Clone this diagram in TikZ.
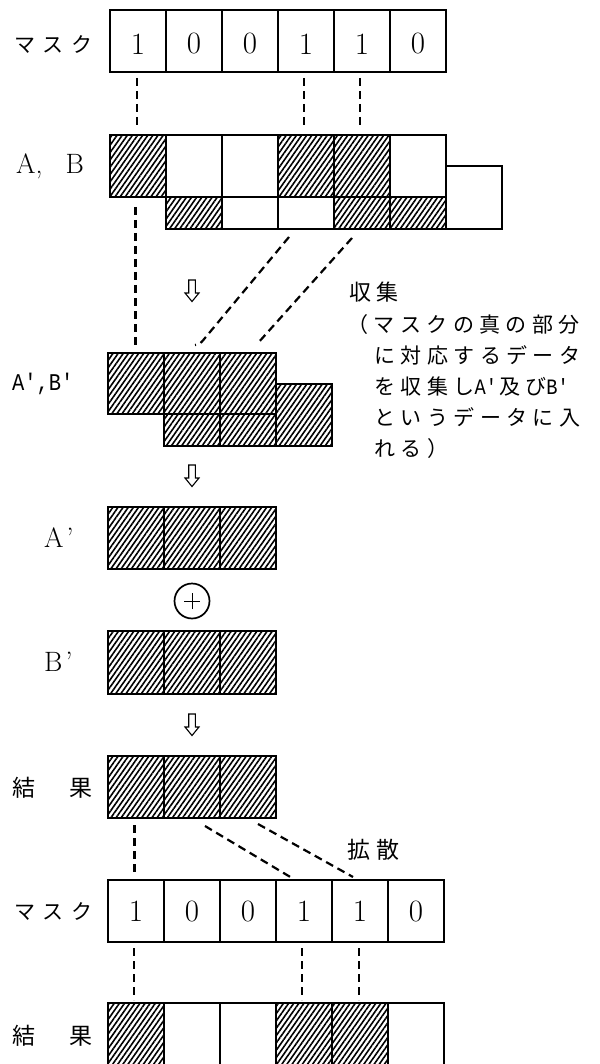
\documentclass[tikz,border=0pt]{standalone}
\usepackage{fontspec}
\usepackage{graphicx}
\usetikzlibrary{patterns.meta}
\setmonofont{Liberation Mono}
\newfontfamily\jpf{Noto Sans CJK JP}
\newfontfamily\jpsp[LetterSpace=26]{Noto Sans CJK JP}
\newfontfamily\jpmk[LetterSpace=36]{Noto Sans CJK JP}
\newcommand\monoq[2]{\scalebox{0.85}[1]{\ttfamily\fontsize{#1}{#1}\selectfont #2}}
\tikzset{
  cell/.style={draw, line width=1.2pt, minimum width=56pt, minimum height=62pt, inner sep=0pt, outer sep=0pt, anchor=north west},
  halfcell/.style={cell, minimum height=32pt},
  hat/.style={pattern={Lines[angle=55,distance=4.2pt,line width=1.6pt]}},
  dashline/.style={line width=2.2pt, dash pattern=on 8pt off 5pt},
  digit/.style={font=\fontsize{31pt}{31pt}\selectfont, inner sep=0pt},
  lab/.style={font=\fontsize{28pt}{28pt}\selectfont, inner sep=0pt, anchor=west},
  jplab/.style={font=\jpf\fontsize{23pt}{23pt}\selectfont, inner sep=0pt, anchor=west},
  mklab/.style={font=\jpmk\fontsize{21pt}{21pt}\selectfont, inner sep=0pt, anchor=west},
  note/.style={font=\jpsp\fontsize{21pt}{21pt}\selectfont, inner sep=0pt, anchor=base west},
  hollow/.pic={\draw[line width=1.1pt, line join=miter] (-3.3,0) -- (3.3,0) -- (3.3,13) -- (7,13) -- (0,21.5) -- (-7,13) -- (-3.3,13) -- cycle;},
}
\begin{document}
\begin{tikzpicture}[x=1pt,y=-1pt]
\useasboundingbox (0,0) rectangle (599,1064);
\fill[white] (0,0) rectangle (599,1064);
\clip (0,0) rectangle (599,1064);

% ---- top mask
\foreach \i/\d in {1/1,2/0,3/0,4/1,5/1,6/0}{
  \node[cell] (ma\i) at ({110+56*(\i-1)},10) {};
  \node[digit] (mad\i) at ({138+56*(\i-1)},44) {\d};
}
\node[mklab] (lmask1) at (14,45) {マスク};

% ---- A, B
\foreach \i in {1,4,5} \node[cell,hat] (a\i) at ({110+56*(\i-1)},135) {};
\foreach \i in {2,3,6} \node[cell] (a\i) at ({110+56*(\i-1)},135) {};
\foreach \i in {1,4,5} \node[halfcell,hat] (b\i) at ({166+56*(\i-1)},197) {};
\foreach \i in {2,3} \node[halfcell] (b\i) at ({166+56*(\i-1)},197) {};
\node[cell, minimum height=63pt] (b6) at (446,166) {};
\node[lab] (lAB) at (16,166) {A,\hspace{23pt}B};

% ---- A', B'
\foreach \i in {1,2,3} \node[cell,hat,minimum height=61pt] (ab\i) at ({108+56*(\i-1)},353) {};
\node[halfcell,hat] (bb1) at (164,414) {};
\node[halfcell,hat] (bb2) at (220,414) {};
\node[cell,hat] (bb3) at (276,384) {};
\node[anchor=west, inner sep=0pt] (lApBp) at (12,384) {\monoq{24pt}{A',B'}};

% ---- gather connectors
\draw[dashline, shorten <=6pt, shorten >=7pt] ([xshift=-1pt]ma1.south) -- ([xshift=-1pt]a1.north);
\draw[dashline, shorten <=6pt, shorten >=7pt] ([xshift=-2pt]ma4.south) -- ([xshift=-2pt]a4.north);
\draw[dashline, shorten <=6pt, shorten >=7pt] ([xshift=-2pt]ma5.south) -- ([xshift=-2pt]a5.north);
\draw[dashline, shorten <=10pt, shorten >=8pt] ([xshift=-2.5pt]a1.south) -- ([xshift=-0.5pt]ab1.north);
\draw[dashline] ([shift={(-17,8)}]b3.south) -- ([shift={(13,-15)}]ab2.north) .. controls ([shift={(8,-9)}]ab2.north) .. ([shift={(3,-8)}]ab2.north);
\draw[dashline] ([shift={(-10,9)}]b4.south) -- ([shift={(10,-10)}]ab3.north);
\pic (arr1) at (192,280) {hollow};

\node[note, font=\jpsp\fontsize{22pt}{22pt}\selectfont] (lgather) at (349,301) {収集};
\node[note] (n1) at (347,332) {（マスクの真の部分};
\node[note] (n2) at (374,363) {に対応するデータ};
\node[note] (n3) at (374,394) {を収集し\monoq{22pt}{A'}\hspace{2pt}及び\monoq{22pt}{B'}};
\node[note] (n4) at (374,425) {というデータに入};
\node[note] (n5) at (374,456) {れる）};

% ---- A' (+) B'
\pic (arr2) at (192,465) {hollow};
\foreach \i in {1,2,3} \node[cell,hat] (ap\i) at ({108+56*(\i-1)},507) {};
\node[lab] (lAp) at (44,538) {A\hspace{3pt}’};
\node[circle, draw, line width=1.7pt, minimum size=35pt, inner sep=0pt] (oplus) at (192,601) {};
\draw[line width=1pt] ([xshift=-8pt]oplus.center) -- ([xshift=8pt]oplus.center);
\draw[line width=1pt] ([yshift=-8pt]oplus.center) -- ([yshift=8pt]oplus.center);
\foreach \i in {1,2,3} \node[cell,hat,minimum height=63pt] (bp\i) at ({108+56*(\i-1)},631) {};
\node[lab] (lBp) at (44,662) {B\hspace{3pt}’};
\pic (arr3) at (192,714) {hollow};

% ---- result
\foreach \i in {1,2,3} \node[cell,hat] (r\i) at ({108+56*(\i-1)},756) {};
\node[jplab] (lres1) at (12,788) {結\hspace{34pt}果};

% ---- second mask
\foreach \i/\d in {1/1,2/0,3/0,4/1,5/1,6/0}{
  \node[cell] (mb\i) at ({108+56*(\i-1)},880) {};
  \node[digit] (mbd\i) at ({136+56*(\i-1)},911) {\d};
}
\node[mklab] (lmask2) at (14,911) {マスク};

% ---- spread connectors
\draw[dashline, shorten <=7pt, shorten >=7pt] ([xshift=-1.5pt]r1.south) -- ([xshift=-1.5pt]mb1.north);
\draw[dashline] ([shift={(13,8)}]r2.south) -- ([shift={(-12,-2)}]mb4.north);
\draw[dashline] ([shift={(10,6)}]r3.south) -- ([shift={(-7,-3)}]mb5.north);
\node[note, font=\jpsp\fontsize{23pt}{23pt}\selectfont] (lspread) at (347,858) {拡散};

% ---- final result
\foreach \i in {1,4,5} \node[cell,hat] (rb\i) at ({108+56*(\i-1)},1003) {};
\foreach \i in {2,3,6} \node[cell] (rb\i) at ({108+56*(\i-1)},1003) {};
\node[jplab] (lres2) at (12,1036) {結\hspace{34pt}果};
\draw[dashline, shorten <=6pt, shorten >=3pt] ([xshift=-2pt]mb1.south) -- ([xshift=-2pt]rb1.north);
\draw[dashline, shorten <=6pt, shorten >=3pt] ([xshift=-2pt]mb4.south) -- ([xshift=-2pt]rb4.north);
\draw[dashline, shorten <=6pt, shorten >=3pt] ([xshift=-1pt]mb5.south) -- ([xshift=-1pt]rb5.north);
\end{tikzpicture}
\end{document}
